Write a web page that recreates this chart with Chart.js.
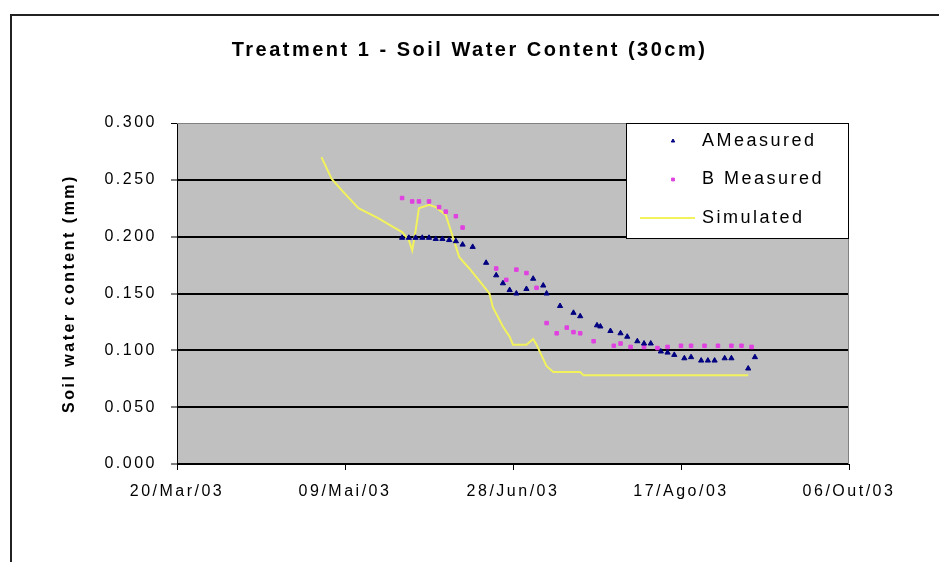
<!DOCTYPE html>
<html>
<head>
<meta charset="utf-8">
<script src="https://cdn.jsdelivr.net/npm/chart.js@4/dist/chart.umd.min.js"></script>
<style>
  html, body { margin: 0; padding: 0; background: #fff; }
  canvas { display: block; }
</style>
</head>
<body>
<canvas id="swc" width="939" height="562"></canvas>
<script>
// x = days after 20/Mar/03
const xTickLabels = ["20/Mar/03", "09/Mai/03", "28/Jun/03", "17/Ago/03", "06/Out/03"];

const simDays = [43, 46, 49, 54, 60, 64, 67, 69, 70, 71, 72, 75, 77, 80, 84, 87, 90, 93, 94, 97, 99, 100, 104, 106, 107, 110, 112, 120, 121, 170];
const simValues = [0.270, 0.251, 0.241, 0.225, 0.216, 0.209, 0.204, 0.197, 0.188, 0.205, 0.225, 0.228, 0.226, 0.219, 0.182, 0.172, 0.161, 0.150, 0.138, 0.121, 0.112, 0.105, 0.105, 0.110, 0.105, 0.086, 0.081, 0.081, 0.078, 0.078];

const aDays = [67, 69, 71, 73, 75, 77, 79, 81, 83, 85, 88, 92, 95, 97, 99, 101, 104, 106, 109, 110, 114, 118, 120, 125, 126, 129, 132, 134, 137, 139, 141, 144, 146, 148, 151, 153, 156, 158, 160, 163, 165, 170, 172];
const aValues = [0.199, 0.199, 0.199, 0.199, 0.199, 0.198, 0.198, 0.197, 0.196, 0.193, 0.191, 0.177, 0.166, 0.159, 0.153, 0.150, 0.154, 0.163, 0.157, 0.150, 0.139, 0.133, 0.130, 0.122, 0.121, 0.117, 0.115, 0.112, 0.108, 0.106, 0.106, 0.099, 0.098, 0.096, 0.093, 0.094, 0.091, 0.091, 0.091, 0.093, 0.093, 0.084, 0.094];

const bDays = [67, 70, 72, 75, 78, 80, 83, 85, 95, 98, 101, 104, 107, 110, 113, 116, 118, 120, 124, 130, 132, 135, 139, 143, 146, 150, 153, 157, 161, 165, 168, 171];
const bValues = [0.234, 0.231, 0.231, 0.231, 0.226, 0.222, 0.218, 0.208, 0.172, 0.162, 0.171, 0.168, 0.155, 0.124, 0.115, 0.120, 0.116, 0.115, 0.108, 0.104, 0.106, 0.103, 0.103, 0.102, 0.103, 0.104, 0.104, 0.104, 0.104, 0.104, 0.104, 0.103];

const FONT = "'Liberation Sans', Arial, sans-serif";
const SPACING = "2.5px";

const toPoints = (xs, ys) => xs.map((x, i) => ({ x: x, y: ys[i] }));

// grey plot area, outer frame, excel-ish letter spacing
const plotBg = {
  id: "plotBg",
  beforeLayout(chart) {
    chart.ctx.letterSpacing = SPACING;
  },
  beforeDraw(chart) {
    const { ctx, chartArea: a, width, height } = chart;
    ctx.letterSpacing = SPACING;
    ctx.save();
    ctx.fillStyle = "#fff";
    ctx.fillRect(0, 0, width, height);
    ctx.fillStyle = "#c0c0c0";
    ctx.fillRect(a.left, a.top, a.right - a.left, a.bottom - a.top);
    ctx.strokeStyle = "#222";
    ctx.lineWidth = 2;
    ctx.strokeRect(11, 15, width + 20, height + 20);
    ctx.restore();
  },
  beforeDatasetsDraw(chart) {
    const { ctx, chartArea: a } = chart;
    ctx.save();
    ctx.strokeStyle = "#808080";
    ctx.lineWidth = 1;
    ctx.beginPath();
    ctx.moveTo(a.left, a.top + 0.5);
    ctx.lineTo(a.right - 0.5, a.top + 0.5);
    ctx.lineTo(a.right - 0.5, a.bottom);
    ctx.stroke();
    ctx.restore();
  }
};

// boxed legend in the top right corner of the plot
const legendBox = {
  id: "legendBox",
  afterDraw(chart) {
    const { ctx, chartArea: a } = chart;
    const x0 = 626, y0 = a.top, w = a.right - x0 - 1, h = 115;
    ctx.save();
    ctx.fillStyle = "#fff";
    ctx.fillRect(x0, y0, w, h);
    ctx.strokeStyle = "#000";
    ctx.lineWidth = 1;
    ctx.strokeRect(x0 + 0.5, y0 + 0.5, w, h);
    ctx.font = "18px " + FONT;
    ctx.textBaseline = "middle";
    ctx.textAlign = "left";
    chart.data.datasets.forEach((ds, i) => {
      const y = y0 + 18 + i * 38.5;
      if (ds.showLine) {
        ctx.strokeStyle = ds.borderColor;
        ctx.lineWidth = ds.borderWidth;
        ctx.beginPath();
        ctx.moveTo(x0 + 14, y);
        ctx.lineTo(x0 + 69, y);
        ctx.stroke();
      } else {
        ctx.fillStyle = ds.backgroundColor;
        ctx.strokeStyle = ds.borderColor;
        ctx.lineWidth = 1;
        Chart.helpers.drawPoint(ctx, { pointStyle: ds.pointStyle, radius: 2, borderWidth: 1, rotation: 0 }, x0 + 47, y);
      }
      ctx.fillStyle = "#000";
      ctx.fillText(ds.label, x0 + 76, y);
    });
    ctx.restore();
  }
};

new Chart(document.getElementById("swc"), {
  type: "scatter",
  data: {
    datasets: [
      {
        label: "AMeasured",
        data: toPoints(aDays, aValues),
        pointStyle: "triangle",
        pointRadius: 3,
        backgroundColor: "#000080",
        borderColor: "#000080",
        borderWidth: 1
      },
      {
        label: "B Measured",
        data: toPoints(bDays, bValues),
        pointStyle: "rect",
        pointRadius: 2.5,
        backgroundColor: "#e040e0",
        borderColor: "#e040e0",
        borderWidth: 1
      },
      {
        label: "Simulated",
        data: toPoints(simDays, simValues),
        showLine: true,
        pointRadius: 0,
        borderColor: "#f2f25c",
        backgroundColor: "#f2f25c",
        borderWidth: 2,
        tension: 0
      }
    ]
  },
  options: {
    responsive: false,
    animation: false,
    layout: { padding: 0 },
    plugins: {
      legend: { display: false },
      tooltip: { enabled: false },
      title: {
        display: true,
        text: "Treatment 1 - Soil Water Content (30cm)",
        color: "#000",
        font: { family: FONT, size: 20, weight: "bold" },
        padding: { top: 38, bottom: 61 }
      }
    },
    scales: {
      x: {
        type: "linear",
        min: 0,
        max: 200,
        afterFit(scale) { scale.height = 98; },
        ticks: {
          stepSize: 50,
          color: "#000",
          padding: 12,
          maxRotation: 0,
          font: { family: FONT, size: 16 },
          callback: (v, i) => xTickLabels[i]
        },
        grid: { drawOnChartArea: false, drawTicks: true, tickLength: 6, tickColor: "#000", tickWidth: 1 },
        border: { display: true, color: "#000", width: 1 }
      },
      y: {
        min: 0,
        max: 0.3,
        afterFit(scale) { scale.width = 177; },
        ticks: {
          stepSize: 0.05,
          color: "#000",
          padding: 14,
          font: { family: FONT, size: 16 },
          callback: (v) => v.toFixed(3)
        },
        title: {
          display: true,
          text: "Soil water content (mm)",
          color: "#000",
          font: { family: FONT, size: 16, weight: "bold" },
          padding: { top: 60, bottom: 0 }
        },
        grid: {
          color: (c) => (c.tick && c.tick.value >= 0.3 ? "#808080" : "#000"),
          lineWidth: (c) => (c.tick && c.tick.value >= 0.3 ? 1 : 2),
          drawTicks: true,
          tickLength: 6,
          tickColor: "#000",
          tickWidth: 1
        },
        border: { display: true, color: "#000", width: 1 }
      },
      // empty right-hand spacer so the plot stops at the 06/Out/03 tick
      spacer: {
        type: "linear",
        position: "right",
        afterFit(scale) { scale.width = 90; },
        ticks: { display: false },
        grid: { display: false, drawTicks: false },
        border: { display: false }
      }
    }
  },
  plugins: [plotBg, legendBox]
});
</script>
</body>
</html>
